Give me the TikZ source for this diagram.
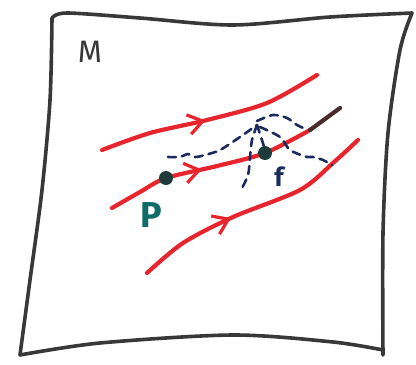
\documentclass[tikz,border=0pt]{standalone}
\usepackage{fontspec}
\setsansfont{Fira Sans}
\usetikzlibrary{decorations.markings,arrows.meta}
\definecolor{penred}{HTML}{E8242C}
\definecolor{pennavy}{HTML}{1C2B5E}
\definecolor{penteal}{HTML}{0F6B68}
\definecolor{pendot}{HTML}{1E3B3C}
\definecolor{pengray}{HTML}{383838}
\definecolor{penbrown}{HTML}{4A2B2B}

\begin{document}
\begin{tikzpicture}[
  x=1pt, y=-1pt,
  frame/.style  = {draw=pengray, line width=3.6pt, line join=round, line cap=round},
  flow/.style   = {draw=penred, line width=4.2pt, line cap=round},
  flowarr/.style = {flow, postaction={decorate},
                    decoration={markings, mark=at position #1 with
                    {\arrow[penred, line width=3.2pt]{Straight Barb[length=5mm,width=7mm]}}}},
  probe/.style  = {draw=pennavy, line width=2.6pt, dash pattern=on 8pt off 6pt, line cap=round},
  dot/.style    = {circle, fill=pendot, inner sep=0pt, minimum size=14pt},
  lbl/.style    = {inner sep=0pt, font=\sffamily},
]
\useasboundingbox (0,0) rectangle (416,365);
% the manifold
\draw[frame] plot[smooth] coordinates {(52,18) (67,13) (140,18) (233,25) (330,17) (412,13)}
  -- plot[smooth] coordinates {(412,13) (400,50) (388,133) (383,233) (383,355)}
  -- plot[smooth] coordinates {(383,350) (333,342) (233,335) (100,343) (20,355)}
  -- plot[smooth] coordinates {(20,355) (30,280) (42,190) (50,100) (52,18)};
\node[lbl, font=\sffamily\fontsize{31}{31}\selectfont, text=pengray] (M) at (90,52) {M};
% flow lines
\draw[flowarr=0.47] plot[smooth] coordinates {(102,150) (150,133) (207,120) (267,103) (317,75)};
\draw[flowarr=0.46] plot[smooth] coordinates {(112,208) (140,192) (166,178) (217,166) (265,153) (310,130)};
\draw[draw=penbrown, line width=4.2pt, line cap=round] (310,130) -- (340,108);
\draw[flowarr=0.4] plot[smooth] coordinates {(147,273) (183,243) (233,217) (300,190) (333,163) (358,140)};
% probe curves
\draw[probe] plot[smooth] coordinates {(168,157) (180,157) (188,154) (195,157) (205,155) (220,150) (240,137) (257,125)};
\draw[probe] plot[smooth] coordinates {(257,125) (252,140) (250,157) (248,175) (240,192)};
\draw[probe] plot[smooth] coordinates {(257,125) (261,137) (265,150)};
\draw[probe] plot[smooth] coordinates {(257,121) (273,115) (287,118) (297,125) (308,130)};
\draw[probe] plot[smooth] coordinates {(260,127) (280,137) (290,150) (307,157) (313,157) (323,160) (332,165)};
% points
\node[dot] (P) at (166,178) {};
\node[dot] (f) at (265,153) {};
\node[lbl, font=\sffamily\bfseries\fontsize{36}{36}\selectfont, text=penteal] (Plbl) at (151,215) {P};
\node[lbl, font=\sffamily\bfseries\fontsize{26}{26}\selectfont, text=pennavy] (flbl) at (279,177) {f};
\end{tikzpicture}
\end{document}
